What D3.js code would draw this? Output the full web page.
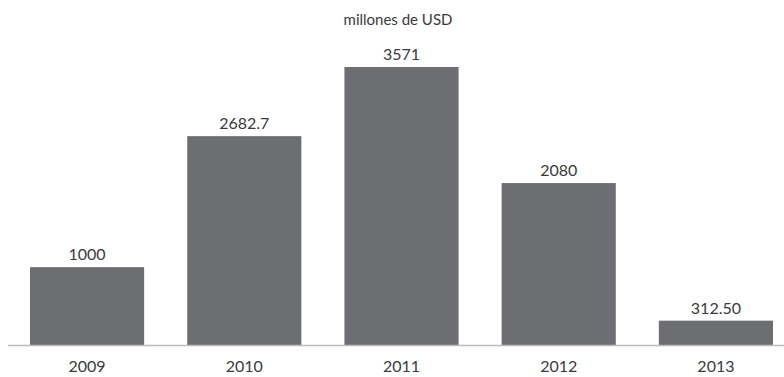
<!DOCTYPE html>
<html>
<head>
<meta charset="utf-8">
<script src="https://cdn.jsdelivr.net/npm/d3@7"></script>
<style>
  body { margin: 0; background: #fff; }
  text { font-family: "Lato", "Noto Sans", sans-serif; fill: #3a3a3a; }
</style>
</head>
<body>
<div id="container"></div>
<script>
// Data
const years = ['2009', '2010', '2011', '2012', '2013'];
const values = [1000, 2682.7, 3571, 2080, 312.5];
const valueLabels = ['1000', '2682.7', '3571', '2080', '312.50'];

const width = 784;
const height = 377;
const baseline = 345;

const svg = d3.select('#container').append('svg')
    .attr('width', width)
    .attr('height', height);

// X scale: bars 114 wide, step ~157
const xScale = d3.scaleBand()
    .domain(years)
    .range([8, 795])
    .paddingInner(0.274)
    .paddingOuter(0.14);

// Y scale
const yScale = d3.scaleLinear()
    .domain([0, 3571])
    .range([baseline, 67]);

// Title
svg.append('text')
    .attr('x', 398)
    .attr('y', 25)
    .attr('text-anchor', 'middle')
    .style('font-size', '15px')
    .text('millones de USD');

// Bars
svg.selectAll('rect.bar')
    .data(values)
    .enter()
    .append('rect')
    .attr('class', 'bar')
    .attr('x', (d, i) => xScale(years[i]))
    .attr('y', d => yScale(d))
    .attr('width', xScale.bandwidth())
    .attr('height', d => baseline - yScale(d))
    .attr('fill', '#6d6e71');

// Value labels
svg.selectAll('text.val')
    .data(values)
    .enter()
    .append('text')
    .attr('class', 'val')
    .attr('x', (d, i) => xScale(years[i]) + xScale.bandwidth() / 2)
    .attr('y', d => yScale(d) - 7)
    .attr('text-anchor', 'middle')
    .style('font-size', '16px')
    .text((d, i) => valueLabels[i]);

// X axis
const xAxis = svg.append('g')
    .attr('transform', 'translate(0,' + baseline + ')')
    .call(d3.axisBottom(xScale).tickSize(0).tickPadding(16));
xAxis.select('.domain').remove();
xAxis.selectAll('text')
    .style('font-size', '16px')
    .style('font-family', '"Lato", "Noto Sans", sans-serif')
    .attr('fill', '#3a3a3a');

svg.append('line')
    .attr('x1', 8)
    .attr('x2', 784)
    .attr('y1', baseline + 0.5)
    .attr('y2', baseline + 0.5)
    .attr('stroke', '#bcbcbc')
    .attr('stroke-width', 1.5);
</script>
</body>
</html>
